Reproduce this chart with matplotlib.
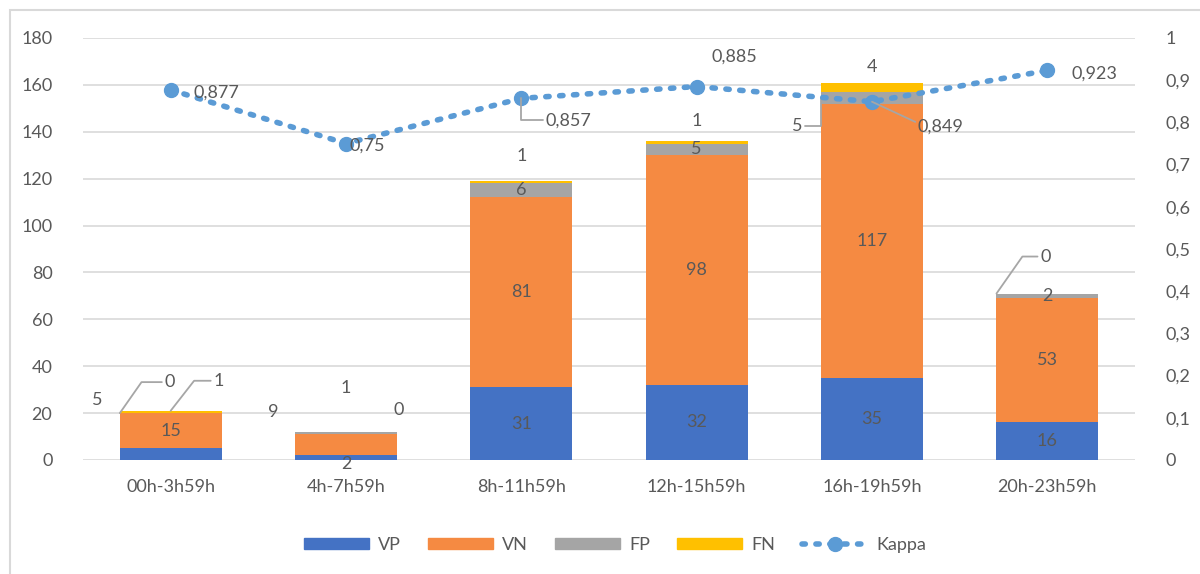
import numpy as np
import matplotlib
matplotlib.use("Agg")
import matplotlib.pyplot as plt
from matplotlib.patches import Rectangle, Patch
from matplotlib.lines import Line2D
from matplotlib.ticker import FuncFormatter

plt.rcParams["font.family"] = ["Lato", "DejaVu Sans"]

categories = ["00h-3h59h", "4h-7h59h", "8h-11h59h", "12h-15h59h", "16h-19h59h", "20h-23h59h"]
vp = [5, 2, 31, 32, 35, 16]
vn = [15, 9, 81, 98, 117, 53]
fp = [0, 1, 6, 5, 5, 2]
fn = [1, 0, 1, 1, 4, 0]
kappa = [0.877, 0.75, 0.857, 0.885, 0.849, 0.923]

C_VP = "#4472C4"
C_VN = "#F58A42"
C_FP = "#A5A5A5"
C_FN = "#FFC000"
C_K = "#5B9BD5"
TXT = "#595959"
GRID = "#D9D9D9"
FS = 13

fig = plt.figure(figsize=(12, 5.74), dpi=100)
# chart border
fig.patches.append(Rectangle((10 / 1200, -0.01), 1.0, 1 - 10 / 574 + 0.01,
                             transform=fig.transFigure, fill=False,
                             edgecolor="#D9D9D9", linewidth=1.5))

ax = fig.add_axes([83 / 1200, 1 - 460 / 574, (1135 - 83) / 1200, (460 - 38) / 574])
ax2 = ax.twinx()

x = np.arange(len(categories))
w = 0.58
vp_a, vn_a, fp_a, fn_a = map(np.array, (vp, vn, fp, fn))
ax.bar(x, vp_a, w, color=C_VP, zorder=2)
ax.bar(x, vn_a, w, bottom=vp_a, color=C_VN, zorder=2)
ax.bar(x, fp_a, w, bottom=vp_a + vn_a, color=C_FP, zorder=2)
ax.bar(x, fn_a, w, bottom=vp_a + vn_a + fp_a, color=C_FN, zorder=2)

ax.set_xlim(-0.5, len(categories) - 0.5)
ax.set_ylim(0, 180)
ax.set_yticks(range(0, 181, 20))
ax.set_xticks(x)
ax.set_xticklabels(categories)
ax.grid(axis="y", color=GRID, linewidth=1.2, zorder=0)
ax.set_axisbelow(True)
for sp in ax.spines.values():
    sp.set_visible(False)
for sp in ax2.spines.values():
    sp.set_visible(False)
ax.tick_params(axis="both", length=0, labelsize=FS, colors=TXT)
ax.tick_params(axis="y", pad=22)
ax.tick_params(axis="x", pad=14)

ax2.set_ylim(0, 1)
ax2.set_yticks(np.arange(0, 1.01, 0.1))
ax2.yaxis.set_major_formatter(FuncFormatter(lambda v, p: ("%g" % round(v, 1)).replace(".", ",")))
ax2.tick_params(axis="y", length=0, labelsize=FS, colors=TXT, pad=22)

ax2.plot(x, kappa, color=C_K, linestyle=(0, (0.6, 1.9)), linewidth=4,
         dash_capstyle="round", marker="o", markersize=10, zorder=5)

def lab(xy, text, off=(0, 0), leader=None, axis=ax, ha="center"):
    kw = {}
    if leader is not None:
        kw["arrowprops"] = dict(arrowstyle="-", color="#A6A6A6", lw=1.3,
                                shrinkA=0, shrinkB=0,
                                connectionstyle=leader)
    axis.annotate(text, xy=xy, xytext=off, textcoords="offset pixels",
                  ha=ha, va="center", fontsize=FS, color=TXT,
                  annotation_clip=False, zorder=6, **kw)

bot_vn = vp_a
bot_fp = vp_a + vn_a
bot_fn = vp_a + vn_a + fp_a

# inside labels for big segments
for i in [2, 3, 4, 5]:
    lab((i, vp[i] / 2), str(vp[i]))
    lab((i, bot_vn[i] + vn[i] / 2), str(vn[i]))
lab((0, bot_vn[0] + vn[0] / 2), str(vn[0]))
for i in [2, 3, 5]:
    lab((i, bot_fp[i] + fp[i] / 2), str(fp[i]))

# small segment labels
lab((0, vp[0] / 2), str(vp[0]), off=(-73, 54))
lab((0 - w / 2, bot_fp[0]), str(fp[0]), off=(50, 31), leader="angle,angleA=0,angleB=55,rad=0")
lab((0, bot_fn[0] + fn[0]), str(fn[0]), off=(48, 30), leader="angle,angleA=0,angleB=52,rad=0")

lab((1, vp[1] / 2), str(vp[1]), off=(0, -6))
lab((1, bot_vn[1] + vn[1] / 2), str(vn[1]), off=(-73, 33))
lab((1, bot_fp[1] + fp[1] / 2), str(fp[1]), off=(0, 45))
lab((1, bot_fn[1] + fn[1]), str(fn[1]), off=(53, 22))

lab((2, bot_fn[2] + fn[2] / 2), str(fn[2]), off=(0, 26))
lab((3, bot_fn[3] + fn[3] / 2), str(fn[3]), off=(0, 21))
lab((4 - w / 2, bot_fp[4] + fp[4] / 2), str(fp[4]), off=(-24, -28),
    leader="angle,angleA=0,angleB=90,rad=0")
lab((4, bot_fn[4] + fn[4] / 2), str(fn[4]), off=(0, 20))
lab((5 - w / 2, bot_fn[5] + fn[5]), str(fn[5]), off=(49, 37),
    leader="angle,angleA=0,angleB=55,rad=0")

# kappa labels
def fmt(v):
    return ("%g" % v).replace(".", ",")

lab((0, kappa[0]), fmt(kappa[0]), off=(23, -3), axis=ax2, ha="left")
lab((1, kappa[1]), fmt(kappa[1]), off=(3, -2), axis=ax2, ha="left")
lab((2, kappa[2]), fmt(kappa[2]), off=(24, -22), axis=ax2, ha="left",
    leader="angle,angleA=0,angleB=90,rad=0")
lab((3, kappa[3]), fmt(kappa[3]), off=(15, 30), axis=ax2, ha="left")
lab((4, kappa[4]), fmt(kappa[4]), off=(46, -25), axis=ax2, ha="left",
    leader="angle,angleA=0,angleB=-25,rad=0")
lab((5, kappa[5]), fmt(kappa[5]), off=(24, -3), axis=ax2, ha="left")

handles = [Patch(color=C_VP), Patch(color=C_VN), Patch(color=C_FP), Patch(color=C_FN),
           Line2D([], [], color=C_K, linestyle=(0, (0.6, 1.9)), linewidth=4,
                  dash_capstyle="round", marker="o", markersize=10)]
leg = fig.legend(handles, ["VP", "VN", "FP", "FN", "Kappa"], loc="center",
                 bbox_to_anchor=(615 / 1200, 1 - 545 / 574), ncol=5, frameon=False,
                 fontsize=FS, handlelength=3.6, handleheight=0.55, columnspacing=1.5,
                 handletextpad=0.5)
for t in leg.get_texts():
    t.set_color(TXT)

fig.savefig("out.png", dpi=100)
